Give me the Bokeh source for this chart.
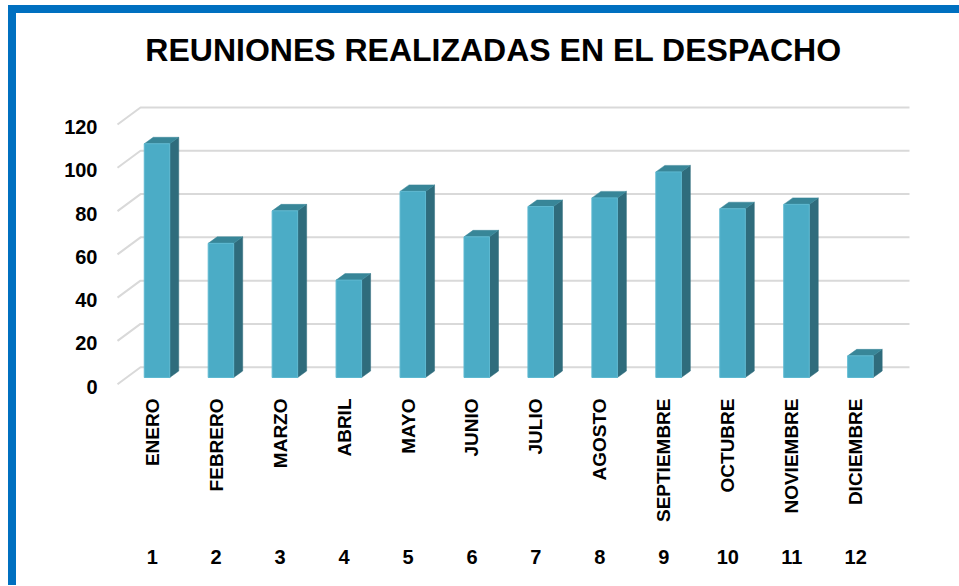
import math
from bokeh.plotting import figure
from bokeh.models import Range1d, LinearAxis, FixedTicker
from bokeh.core.properties import value
from bokeh.embed import file_html
from bokeh.resources import INLINE

# ---------------- data ----------------
months = ["ENERO", "FEBRERO", "MARZO", "ABRIL", "MAYO", "JUNIO", "JULIO",
          "AGOSTO", "SEPTIEMBRE", "OCTUBRE", "NOVIEMBRE", "DICIEMBRE"]
month_numbers = ["1", "2", "3", "4", "5", "6", "7", "8", "9", "10", "11", "12"]
reuniones = [108, 62, 77, 45, 86, 65, 79, 83, 95, 78, 80, 10]
y_ticks = [0, 20, 40, 60, 80, 100, 120]
title_text = "REUNIONES REALIZADAS EN EL DESPACHO"

# ---------------- geometry (pixel based styling) ----------------
PX_X = 63.95   # pixels per category
PX_Y = 2.164   # pixels per value unit


def ux(px):
    return px / PX_X


def uy(px):
    return px / PX_Y


positions = list(range(1, len(months) + 1))

x_start = 1 - ux(41.7)
x_end = 1 + ux(778.3)
y_start = -uy(23.3)
y_end = uy(346.7)

wall_left = 1 - ux(11.7)
wall_right = 1 + ux(757.3)
diag_dx = ux(23)
diag_dy = uy(17)
label_dy = uy(19.5)

bar_shift = ux(4.8)
half_w = ux(12.75)
side_dx = ux(9)
side_dy = uy(6.5)
base = -uy(10.3)

title_x = 1 + ux(341.3)
title_y = uy(317.7)

FONT = "Liberation Sans"
FRAME_BLUE = "#0070C0"

p = figure(width=943, height=572, output_backend="svg", toolbar_location=None,
           x_range=Range1d(x_start, x_end), y_range=Range1d(y_start, y_end),
           x_axis_location="below", y_axis_location=None,
           min_border_left=94, min_border_right=29, min_border_top=7,
           min_border_bottom=195)
p.styles = {"margin-left": "16px", "margin-top": "13px",
            "box-shadow": (f"0px -8px 0px 0px {FRAME_BLUE}, "
                           f"-8px 0px 0px 0px {FRAME_BLUE}, "
                           f"-8px -8px 0px 0px {FRAME_BLUE}")}
p.background_fill_color = "white"
p.border_fill_color = "white"
p.outline_line_color = None
p.xgrid.visible = False
p.ygrid.visible = False

# title
p.text(x=[title_x], y=[title_y], text=[title_text],
       text_font=value(FONT), text_font_size="32px", text_font_style="bold",
       text_color="black", text_align="center", text_baseline="middle")

# gridlines: back wall + side diagonals
gx, gy = [], []
for t in y_ticks:
    gx.append([wall_left - diag_dx, wall_left, wall_right])
    gy.append([t - diag_dy, t, t])
p.multi_line(gx, gy, line_color="#D9D9D9", line_width=2)

# 3D bars
lefts = [x + bar_shift - half_w for x in positions]
rights = [x + bar_shift + half_w for x in positions]
tops = [v + base for v in reuniones]

side_xs, side_ys, top_xs, top_ys = [], [], [], []
for l, r, t in zip(lefts, rights, tops):
    side_xs.append([r, r + side_dx, r + side_dx, r])
    side_ys.append([base, base + side_dy, t + side_dy, t])
    top_xs.append([l, l + side_dx, r + side_dx, r])
    top_ys.append([t, t + side_dy, t + side_dy, t])

p.patches(side_xs, side_ys, fill_color="#2F6C7C", line_color="#2F6C7C", line_width=0.5)
p.patches(top_xs, top_ys, fill_color="#388698", line_color="#388698", line_width=0.5)
p.quad(left=lefts, right=rights, bottom=base, top=tops,
       fill_color="#4BACC6", line_color="#5DB8D0", line_width=1)

# y axis (labels at the front edge of the floor)
p.extra_y_ranges = {"front": Range1d(y_start + label_dy, y_end + label_dy)}
yax = LinearAxis(y_range_name="front", ticker=FixedTicker(ticks=y_ticks))
yax.axis_line_color = None
yax.major_tick_line_color = None
yax.minor_tick_line_color = None
yax.major_label_standoff = 7
yax.major_label_text_font = FONT
yax.major_label_text_font_size = "20px"
yax.major_label_text_font_style = "bold"
yax.major_label_text_color = "black"
p.add_layout(yax, "left")

# x axis: month names (vertical, reading bottom to top)
xax = p.xaxis[0]
xax.ticker = FixedTicker(ticks=positions)
xax.major_label_overrides = {pos: m for pos, m in zip(positions, months)}
xax.major_label_orientation = math.pi / 2
xax.axis_line_color = None
xax.major_tick_line_color = None
xax.minor_tick_line_color = None
xax.major_tick_out = 0
xax.major_tick_in = 0
xax.major_label_standoff = 8
xax.major_label_text_font = FONT
xax.major_label_text_font_size = "19px"
xax.major_label_text_font_style = "bold"
xax.major_label_text_color = "black"

# second x axis: month numbers
nax = LinearAxis(ticker=FixedTicker(ticks=positions))
nax.major_label_overrides = {pos: n for pos, n in zip(positions, month_numbers)}
nax.axis_line_color = None
nax.major_tick_line_color = None
nax.minor_tick_line_color = None
nax.major_tick_out = 0
nax.major_tick_in = 0
nax.major_label_standoff = 24
nax.major_label_text_font = FONT
nax.major_label_text_font_size = "20px"
nax.major_label_text_font_style = "bold"
nax.major_label_text_color = "black"
p.add_layout(nax, "below")

open("out.html", "w").write(file_html(p, INLINE))
